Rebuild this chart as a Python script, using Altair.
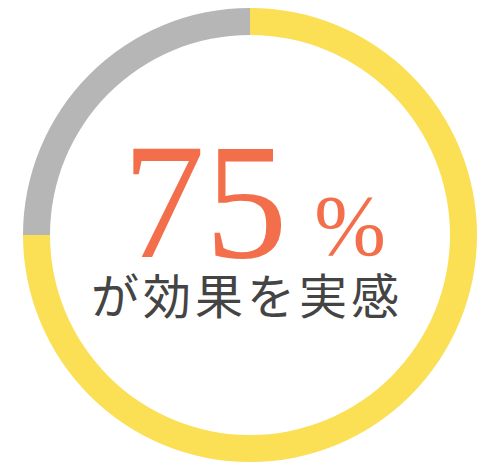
import altair as alt
import pandas as pd

# share of respondents
segments = ["実感あり", "その他"]
shares = [75, 25]
seg_colors = ["#FBDF55", "#B6B6B6"]

percent_label = "75"
percent_sign = "%"
caption_chars = ["が", "効", "果", "を", "実", "感"]

W, H = 484, 452

ring_df = pd.DataFrame({"segment": segments, "share": shares, "order": [0, 1]})
num_df = pd.DataFrame({"label": [percent_label]})
sign_df = pd.DataFrame({"label": [percent_sign]})
cap_df = pd.DataFrame({"ch": caption_chars, "i": list(range(len(caption_chars)))})

ring = (
    alt.Chart(ring_df)
    .mark_arc(outerRadius=227, innerRadius=200, stroke=None)
    .encode(
        theta=alt.Theta("share:Q", stack=True),
        order=alt.Order("order:Q"),
        color=alt.Color(
            "segment:N",
            scale=alt.Scale(domain=segments, range=seg_colors),
            legend=None,
        ),
    )
)

number = (
    alt.Chart(num_df)
    .mark_text(
        font="Liberation Serif",
        fontSize=165,
        color="#F36F4B",
        align="center",
        baseline="alphabetic",
        dx=-45,
        dy=22,
    )
    .encode(text="label:N")
)

sign = (
    alt.Chart(sign_df)
    .mark_text(
        font="Liberation Serif",
        fontSize=86,
        color="#F36F4B",
        align="center",
        baseline="alphabetic",
        dx=100,
        dy=20,
    )
    .encode(text="label:N")
)

# characters spread evenly across the middle, ~52px apart
caption = (
    alt.Chart(cap_df)
    .mark_text(
        font="Noto Sans CJK JP",
        fontSize=48,
        color="#444444",
        align="center",
        baseline="middle",
        dx=-5,
        dy=65,
    )
    .encode(
        x=alt.X("i:Q", scale=alt.Scale(domain=[-2.15, 7.15], nice=False, zero=False), axis=None),
        text="ch:N",
    )
)

chart = (
    alt.layer(ring, number, sign, caption)
    .properties(width=W, height=H, padding=0, background="white")
    .configure_view(stroke=None)
)

chart.save("out.html", embed_options={"renderer": "svg", "actions": False})
